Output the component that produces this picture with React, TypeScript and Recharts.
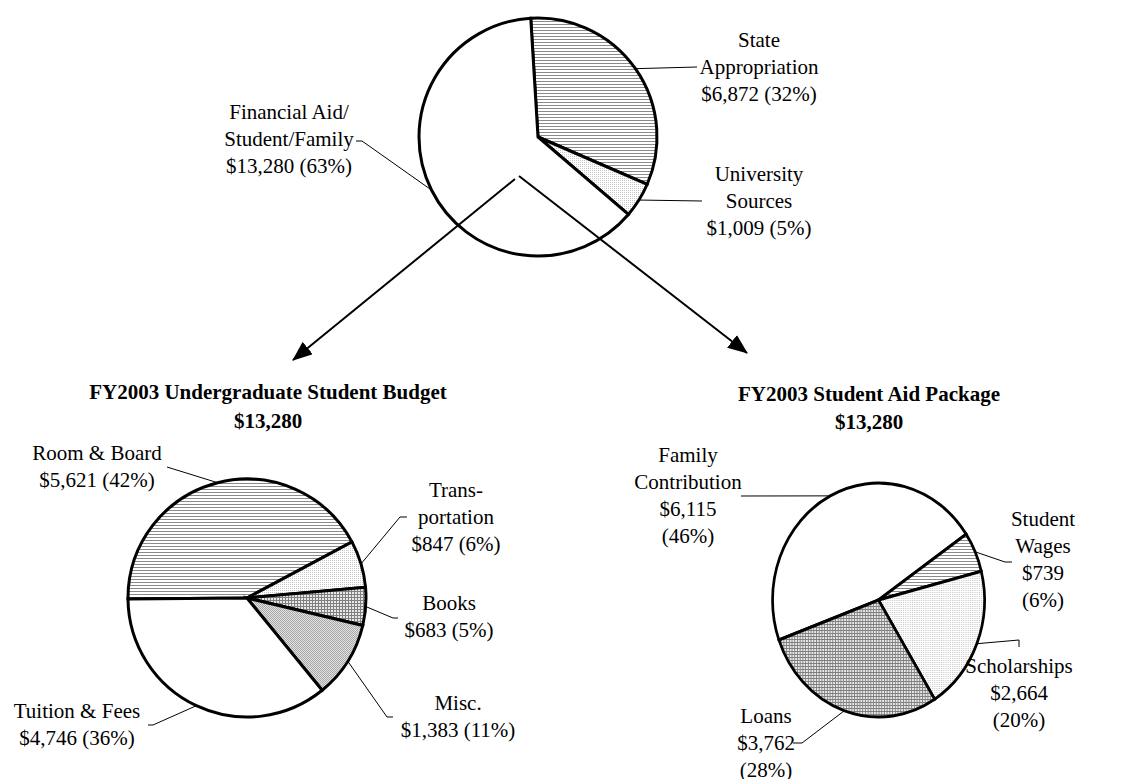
import { PieChart, Pie, Cell } from 'recharts'

// top pie: FY2003 funding sources
const FUNDING_NAMES = ['State Appropriation', 'University Sources', 'Financial Aid/Student/Family']
const FUNDING_LINES = [['State', 'Appropriation'], ['University', 'Sources'], ['Financial Aid/', 'Student/Family']]
const FUNDING_VALUES = [6872, 1009, 13280]
const FUNDING_PCT = ['32%', '5%', '63%']

// bottom left: undergraduate student budget
const BUDGET_NAMES = ['Room & Board', 'Transportation', 'Books', 'Misc.', 'Tuition & Fees']
const BUDGET_LINES = [['Room & Board'], ['Trans-', 'portation'], ['Books'], ['Misc.'], ['Tuition & Fees']]
const BUDGET_VALUES = [5621, 847, 683, 1383, 4746]
const BUDGET_PCT = ['42%', '6%', '5%', '11%', '36%']

// bottom right: student aid package
const AID_NAMES = ['Family Contribution', 'Student Wages', 'Scholarships', 'Loans']
const AID_LINES = [['Family', 'Contribution'], ['Student', 'Wages'], ['Scholarships'], ['Loans']]
const AID_VALUES = [6115, 739, 2664, 3762]
const AID_PCT = ['46%', '6%', '20%', '28%']

const TOTAL_LABEL = '$13,280'

const FONT = "'Liberation Serif', 'Times New Roman', serif"
const LINE_H = 27

const fundingData = FUNDING_NAMES.map((name, i) => ({ name, value: FUNDING_VALUES[i] }))
const budgetData = BUDGET_NAMES.map((name, i) => ({ name, value: BUDGET_VALUES[i] }))
const aidData = AID_NAMES.map((name, i) => ({ name, value: AID_VALUES[i] }))

const fmt = (v: number) => '$' + v.toLocaleString('en-US')

const FUNDING_FILLS = ['url(#hlines)', 'url(#dots)', '#fff']
const BUDGET_FILLS = ['url(#hlines)', 'url(#dots)', 'url(#grid)', 'url(#checker)', '#fff']
const AID_FILLS = ['#fff', 'url(#hlines)', 'url(#dots)', 'url(#grid)']

// leader bends and text anchors (x center, first baseline)
type Layout = { path: number[][]; x: number; y: number }
const FUNDING_LAYOUT: Layout[] = [
    { path: [[697, 67]], x: 759, y: 47 },
    { path: [[702, 201]], x: 759, y: 181 },
    { path: [[362, 141], [356, 141]], x: 289, y: 119 },
]
const BUDGET_LAYOUT: Layout[] = [
    { path: [[167, 467]], x: 97, y: 460 },
    { path: [[400, 517], [407, 517]], x: 456, y: 497 },
    { path: [[393, 618], [398, 618]], x: 449, y: 610 },
    { path: [[387, 717], [393, 717]], x: 458, y: 710 },
    { path: [[153, 725], [148, 725]], x: 77, y: 718 },
]
const AID_LAYOUT: Layout[] = [
    { path: [[741, 496]], x: 688, y: 462 },
    { path: [[1005, 562], [1012, 562]], x: 1043, y: 526 },
    { path: [[1019, 640], [1019, 647]], x: 1019, y: 673 },
    { path: [[802, 743], [793, 743]], x: 766, y: 723 },
]

const AID_SX = 0.906

const makeLabel = (layout: Layout[], lines: string[][], pct: string[], split: boolean, sx = 1) => (props: any) => {
    const { cx, cy, midAngle, outerRadius, index, value } = props
    const rad = Math.PI / 180
    const x0 = cx + outerRadius * Math.cos(-midAngle * rad) * sx
    const y0 = cy + outerRadius * Math.sin(-midAngle * rad)
    const L = layout[index]
    const pts = [[x0, y0], ...L.path].map(p => p.join(',')).join(' ')
    const all = split
        ? [...lines[index], fmt(value), `(${pct[index]})`]
        : [...lines[index], `${fmt(value)} (${pct[index]})`]
    return (
        <g key={`lbl-${index}`}>
            <polyline points={pts} fill="none" stroke="#000" strokeWidth={1} />
            <text x={L.x} y={L.y} textAnchor="middle" fontFamily={FONT} fontSize={21} fill="#000">
                {all.map((t, i) => (
                    <tspan key={i} x={L.x} dy={i === 0 ? 0 : LINE_H}>{t}</tspan>
                ))}
            </text>
        </g>
    )
}

export default function App() {
    return (
        <div style={{ position: 'absolute', left: 0, top: 0, width: 1130, height: 779, background: '#fff' }}>
            <style>{`.aid-pie .recharts-pie-sector { transform-box: view-box; transform-origin: 874px 595px; transform: scaleX(${AID_SX}); }`}</style>
            <svg width={0} height={0} style={{ position: 'absolute' }}>
                <defs>
                    <pattern id="hlines" width="4" height="3" patternUnits="userSpaceOnUse">
                        <rect width="4" height="3" fill="#fff" />
                        <rect width="4" height="1" fill="#8a8a8a" />
                    </pattern>
                    <pattern id="dots" width="2" height="2" patternUnits="userSpaceOnUse">
                        <rect width="2" height="2" fill="#fff" />
                        <rect width="1" height="1" fill="#c8c8c8" />
                    </pattern>
                    <pattern id="grid" width="3" height="3" patternUnits="userSpaceOnUse">
                        <rect width="3" height="3" fill="#e8e8e8" />
                        <rect width="3" height="1" fill="#808080" />
                        <rect width="1" height="3" fill="#808080" />
                    </pattern>
                    <pattern id="checker" width="2" height="2" patternUnits="userSpaceOnUse">
                        <rect width="2" height="2" fill="#e2e2e2" />
                        <rect width="1" height="1" fill="#a8a8a8" />
                        <rect x="1" y="1" width="1" height="1" fill="#a8a8a8" />
                    </pattern>
                    <marker id="arrow" markerUnits="userSpaceOnUse" markerWidth="20" markerHeight="16" refX="19" refY="8" orient="auto">
                        <path d="M0,0 L20,8 L0,16 z" fill="#000" />
                    </marker>
                </defs>
            </svg>
            <PieChart width={1130} height={779} style={{ position: 'absolute', left: 0, top: 0 }}>
                <Pie
                    data={fundingData}
                    dataKey="value"
                    cx={533}
                    cy={132}
                    outerRadius={119}
                    startAngle={93.5}
                    endAngle={-266.5}
                    stroke="#000"
                    strokeWidth={3}
                    labelLine={false}
                    label={makeLabel(FUNDING_LAYOUT, FUNDING_LINES, FUNDING_PCT, false)}
                    isAnimationActive={false}
                >
                    {fundingData.map((d, i) => (
                        <Cell key={d.name} fill={FUNDING_FILLS[i]} />
                    ))}
                </Pie>
                <Pie
                    data={budgetData}
                    dataKey="value"
                    cx={242}
                    cy={593}
                    outerRadius={119}
                    startAngle={180.5}
                    endAngle={-179.5}
                    stroke="#000"
                    strokeWidth={3}
                    labelLine={false}
                    label={makeLabel(BUDGET_LAYOUT, BUDGET_LINES, BUDGET_PCT, false)}
                    isAnimationActive={false}
                >
                    {budgetData.map((d, i) => (
                        <Cell key={d.name} fill={BUDGET_FILLS[i]} />
                    ))}
                </Pie>
                <Pie
                    className="aid-pie"
                    data={aidData}
                    dataKey="value"
                    cx={874}
                    cy={595}
                    outerRadius={117}
                    startAngle={200}
                    endAngle={-160}
                    stroke="#000"
                    strokeWidth={3}
                    labelLine={false}
                    label={makeLabel(AID_LAYOUT, AID_LINES, AID_PCT, true, AID_SX)}
                    isAnimationActive={false}
                >
                    {aidData.map((d, i) => (
                        <Cell key={d.name} fill={AID_FILLS[i]} />
                    ))}
                </Pie>
            </PieChart>
            <svg width={1130} height={779} style={{ position: 'absolute', left: 0, top: 0, pointerEvents: 'none' }}>
                <line x1={515} y1={179} x2={293} y2={360} stroke="#000" strokeWidth={2} markerEnd="url(#arrow)" />
                <line x1={519} y1={176} x2={747} y2={353} stroke="#000" strokeWidth={2} markerEnd="url(#arrow)" />
                <g fontFamily={FONT} fontSize={21} fontWeight="bold" textAnchor="middle" fill="#000">
                    <text x={268} y={399}>FY2003 Undergraduate Student Budget</text>
                    <text x={268} y={428}>{TOTAL_LABEL}</text>
                    <text x={869} y={401}>FY2003 Student Aid Package</text>
                    <text x={869} y={429}>{TOTAL_LABEL}</text>
                </g>
            </svg>
        </div>
    )
}
